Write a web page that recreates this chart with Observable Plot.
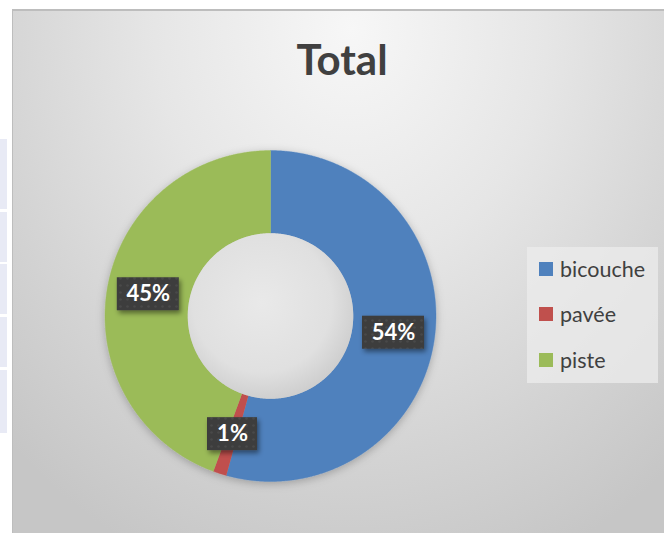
<!DOCTYPE html>
<html><head><meta charset="utf-8">
<script src="https://cdn.jsdelivr.net/npm/d3@7"></script>
<script src="https://cdn.jsdelivr.net/npm/@observablehq/plot@0.6"></script>
<style>
html,body{margin:0;padding:0;background:#fff;}
body{width:664px;height:533px;overflow:hidden;position:relative;font-family:Lato,"Open Sans",sans-serif;}
#chart{position:absolute;left:12px;top:9px;width:652px;height:524px;
  background:radial-gradient(ellipse 75% 110% at 52% 4%, #f7f7f7 0%, #e6e6e6 40%, #d3d3d3 75%, #c6c6c6 100%);
  box-shadow: inset 1px 2px 0 #bdbdbd;}
#plot{position:absolute;left:0;top:0;}
#title{position:absolute;left:0;width:660px;top:29px;text-align:center;font:bold 42px Lato,"Open Sans",sans-serif;color:#404040;line-height:1;}
#legend{position:absolute;left:515px;top:238px;width:131px;height:136px;background:rgba(236,236,236,0.75);}
.li{position:absolute;left:12px;height:24px;display:flex;align-items:center;font-size:21.5px;color:#404040;}
.sw{width:14px;height:14px;margin-right:7px;}
.cell{position:absolute;left:0;width:7px;background:#e8eaf5;}
</style>
</head><body>
<div class="cell" style="top:139px;height:70px"></div>
<div class="cell" style="top:212px;height:50px"></div>
<div class="cell" style="top:264px;height:50px"></div>
<div class="cell" style="top:317px;height:50px"></div>
<div class="cell" style="top:370px;height:63px"></div>
<div style="position:absolute;left:14px;top:11px;width:3px;height:1px;background:#222"></div>
<div id="chart">
  <div id="plot"></div>
  <div id="title"></div>
  <div id="legend"></div>
</div>
<script>
const categories = ["bicouche", "pavée", "piste"];
const values = [54.3, 1.3, 44.4];
const labels = ["54%", "1%", "45%"];
const colors = ["#4f81bd", "#c0504d", "#9bbb59"];
const title = "Total";

const INNER = 0.5;
const R = 165.5, CX = 258, CY = 306.5;

const rows = categories.map((c, i) => ({cat: c, value: values[i], label: labels[i]}));
const arcs = d3.pie().sort(null).value(d => d.value)(rows);
const step = Math.PI / 720;
const ringPts = [];
for (const a of arcs) {
  const n = Math.max(2, Math.ceil((a.endAngle - a.startAngle) / step));
  for (let k = 0; k <= n; k++) {
    const t = a.startAngle + (a.endAngle - a.startAngle) * k / n;
    ringPts.push({cat: a.data.cat, x: Math.sin(t), y: Math.cos(t)});
  }
  for (let k = n; k >= 0; k--) {
    const t = a.startAngle + (a.endAngle - a.startAngle) * k / n;
    ringPts.push({cat: a.data.cat, x: INNER * Math.sin(t), y: INNER * Math.cos(t)});
  }
}
const holePts = d3.range(0, 361).map(k => {
  const t = k * Math.PI / 180;
  return {x: INNER * Math.sin(t), y: INNER * Math.cos(t)};
});
const lblR = (1 + INNER) / 2;
const lbls = arcs.map(a => {
  const m = (a.startAngle + a.endAngle) / 2;
  const w = (12 * a.data.label.length + 26) / R;
  const h = 33 / R;
  const x = lblR * Math.sin(m), y = lblR * Math.cos(m);
  return {label: a.data.label, x, y, x1: x - w / 2, x2: x + w / 2, y1: y - h / 2, y2: y + h / 2};
});

const defs = () => {
  const d = d3.create("svg:defs");
  const g = d.append("radialGradient").attr("id", "holeGrad").attr("cx", "45%").attr("cy", "42%").attr("r", "60%");
  g.append("stop").attr("offset", "0%").attr("stop-color", "#e9e9e9");
  g.append("stop").attr("offset", "70%").attr("stop-color", "#e0e0e0");
  g.append("stop").attr("offset", "100%").attr("stop-color", "#cdcdcd");
  const p = d.append("pattern").attr("id", "lblPat").attr("width", 7).attr("height", 7).attr("patternUnits", "userSpaceOnUse");
  p.append("rect").attr("width", 7).attr("height", 7).attr("fill", "#3c3c3c");
  p.append("circle").attr("cx", 3.5).attr("cy", 3.5).attr("r", 1.3).attr("fill", "#484848");
  const f = d.append("filter").attr("id", "lblShadow").attr("x", "-30%").attr("y", "-30%").attr("width", "170%").attr("height", "170%");
  f.append("feDropShadow").attr("dx", 2).attr("dy", 3).attr("stdDeviation", 2.5).attr("flood-color", "#000").attr("flood-opacity", 0.45);
  const f2 = d.append("filter").attr("id", "ringShadow").attr("x", "-20%").attr("y", "-20%").attr("width", "140%").attr("height", "140%");
  f2.append("feDropShadow").attr("dx", 0).attr("dy", 2).attr("stdDeviation", 4).attr("flood-color", "#000").attr("flood-opacity", 0.25);
  return d.node();
};

const plot = Plot.plot({
  width: 652, height: 524, margin: 0,
  x: {domain: [-1, 1], range: [CX - R, CX + R], axis: null},
  y: {domain: [-1, 1], range: [CY + R, CY - R], axis: null},
  color: {domain: categories, range: colors},
  style: {background: "transparent", overflow: "visible"},
  marks: [
    defs,
    Plot.line(ringPts, {x: "x", y: "y", z: "cat", fill: "cat", stroke: "cat", strokeWidth: 0.4, curve: "linear"}),
    Plot.line(holePts, {x: "x", y: "y", fill: "url(#holeGrad)", stroke: "none"}),
    Plot.rect(lbls, {x1: "x1", x2: "x2", y1: "y1", y2: "y2", fill: "url(#lblPat)"}),
    Plot.text(lbls, {x: "x", y: "y", text: "label", fill: "white", fontSize: 22, fontWeight: "bold", fontFamily: "Lato, 'Open Sans', sans-serif"})
  ]
});
const lines = plot.querySelectorAll('g[aria-label="line"]');
if (lines[0]) lines[0].setAttribute("filter", "url(#ringShadow)");
const rg = plot.querySelector('g[aria-label="rect"]');
if (rg) rg.setAttribute("filter", "url(#lblShadow)");
document.getElementById("plot").appendChild(plot);

document.getElementById("title").textContent = title;
const lg = document.getElementById("legend");
const tops = [22, 67, 113];
categories.forEach((c, i) => {
  const it = document.createElement("div");
  it.className = "li";
  it.style.top = (tops[i] - 12) + "px";
  const sw = document.createElement("span");
  sw.className = "sw"; sw.style.background = colors[i];
  it.appendChild(sw);
  it.appendChild(document.createTextNode(c));
  lg.appendChild(it);
});
</script>
</body></html>
